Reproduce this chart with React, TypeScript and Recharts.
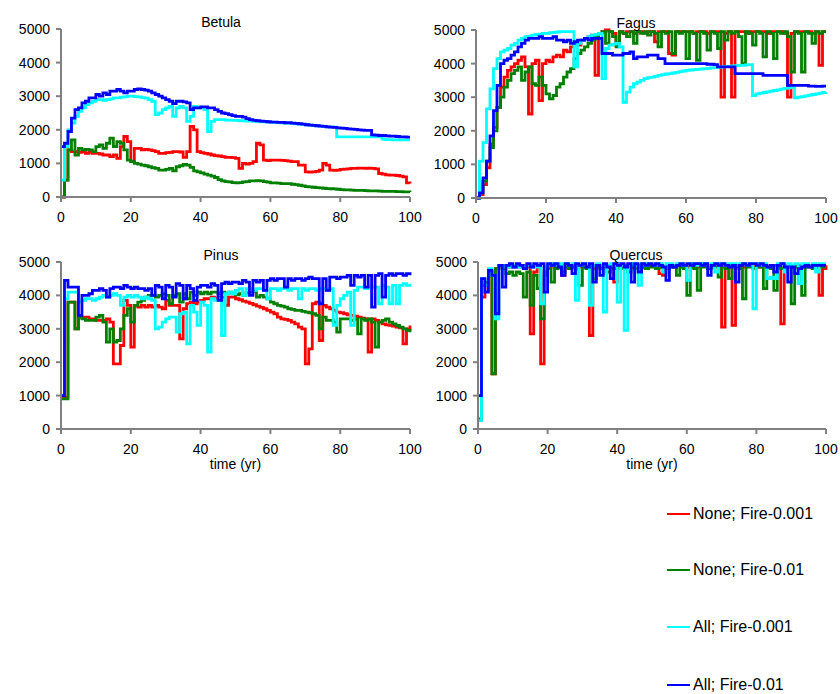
import React from 'react';
import { LineChart, Line, XAxis, YAxis } from 'recharts';

// time axis (yr), one value per year
const YEARS = Array.from({ length: 101 }, (_, i) => i);
const X_TICKS = [0, 20, 40, 60, 80, 100];
const Y_TICKS = [0, 1000, 2000, 3000, 4000, 5000];

const SERIES_NAMES = ['None; Fire-0.001', 'None; Fire-0.01', 'All; Fire-0.001', 'All; Fire-0.01'];
const SERIES_KEYS = ['none001', 'none01', 'all001', 'all01'];
const SERIES_COLORS = ['#ff0000', '#008000', '#00ffff', '#0000ff'];

// ---- Betula ----
const BETULA_NONE_001 = [
  0, 500, 1400, 1350, 1350, 1330, 1350, 1300, 1330, 1300,
  1300, 1280, 1250, 1250, 1200, 1250, 1150, 1500, 1800, 1650,
  1050, 1450, 1450, 1400, 1420, 1400, 1380, 1350, 1300, 1300,
  1320, 1330, 1350, 1350, 1340, 1180, 1350, 2100, 2000, 1350,
  1320, 1300, 1280, 1250, 1230, 1220, 1200, 1180, 1180, 1170,
  1150, 850, 1000, 980, 1000, 1050, 1600, 1550, 1100, 1080,
  1100, 1100, 1100, 1090, 1080, 1070, 1050, 1050, 950, 950,
  750, 740, 750, 760, 800, 1000, 950, 800, 790, 800,
  820, 830, 840, 850, 850, 860, 860, 850, 860, 850,
  840, 700, 680, 660, 650, 650, 640, 620, 600, 420,
  400,
];
const BETULA_NONE_01 = [
  0, 500, 1400, 1700, 1250, 1450, 1400, 1420, 1400, 1350,
  1500, 1550, 1450, 1600, 1750, 1500, 1650, 1600, 1400, 1100,
  1050, 1000, 980, 950, 930, 900, 870, 850, 800, 800,
  820, 850, 780, 900, 930, 970, 950, 880, 780, 750,
  720, 680, 650, 620, 580, 520, 480, 460, 450, 430,
  420, 430, 450, 460, 480, 480, 490, 480, 460, 440,
  420, 420, 410, 400, 400, 400, 380, 370, 350, 330,
  310, 300, 290, 280, 270, 260, 250, 245, 240, 230,
  220, 215, 210, 205, 200, 200, 195, 190, 185, 180,
  180, 175, 170, 170, 165, 165, 160, 160, 155, 155,
  150,
];
const BETULA_ALL_001 = [
  500, 1500, 2000, 2200, 2400, 2550, 2650, 2750, 2800, 2850,
  2900, 2900, 2880, 2900, 2920, 2950, 2950, 2970, 2980, 3000,
  3000, 2990, 2980, 2960, 2940, 2900, 2850, 2450, 2500, 2600,
  2650, 2700, 2400, 2650, 2700, 2650, 2250, 2400, 2700, 2650,
  2650, 2600, 1950, 2250, 2300, 2300, 2300, 2290, 2290, 2280,
  2280, 2270, 2270, 2260, 2260, 2250, 2250, 2240, 2240, 2230,
  2230, 2220, 2220, 2210, 2200, 2200, 2190, 2180, 2170, 2160,
  2150, 2140, 2130, 2120, 2110, 2100, 2090, 2080, 2080, 1790,
  1790, 1790, 1790, 1790, 1790, 1790, 1790, 1790, 1790, 1790,
  1790, 1790, 1720, 1710, 1710, 1700, 1700, 1700, 1700, 1700,
  1700,
];
const BETULA_ALL_01 = [
  1500, 1600, 1950, 2350, 2600, 2650, 2800, 2850, 2950, 2950,
  3050, 3000, 3100, 3050, 3150, 3150, 3200, 3150, 3100, 3150,
  3150, 3200, 3220, 3200, 3180, 3150, 3100, 3050, 3000, 2950,
  2900, 2850, 2780, 2850, 2850, 2830, 2800, 2600, 2650, 2650,
  2680, 2680, 2650, 2650, 2600, 2550, 2500, 2480, 2450, 2420,
  2400, 2400, 2380, 2330, 2300, 2280, 2270, 2260, 2250, 2240,
  2230, 2230, 2220, 2220, 2210, 2210, 2200, 2190, 2180, 2170,
  2150, 2140, 2130, 2120, 2110, 2100, 2090, 2080, 2070, 2060,
  2050, 2040, 2030, 2020, 2010, 2000, 1990, 1980, 1980, 1850,
  1840, 1830, 1830, 1820, 1810, 1810, 1800, 1790, 1790, 1780,
  1780,
];

// ---- Fagus ----
const FAGUS_NONE_001 = [
  0, 100, 400, 900, 1600, 2100, 2700, 3300, 3600, 3800,
  3900, 4000, 4100, 4200, 3900, 2500, 4000, 4100, 2900, 4000,
  4100, 4050, 4200, 4250, 4200, 4400, 4350, 4500, 4600, 4550,
  4700, 4750, 4800, 4850, 3650, 4900, 4950, 5000, 4950, 4900,
  4550, 4950, 4900, 4950, 4950, 4900, 4950, 4950, 4900, 4950,
  4950, 4650, 4950, 4950, 4950, 4300, 4250, 4950, 4950, 4950,
  4950, 4950, 4900, 4950, 4950, 4950, 4900, 4950, 4950, 4950,
  3000, 4900, 4950, 3000, 4950, 4950, 4950, 4900, 4950, 4950,
  4950, 4950, 4950, 4900, 4950, 4950, 4950, 4950, 4900, 3000,
  4900, 4950, 4950, 4950, 4950, 4950, 4900, 4950, 3950, 4950,
  4950,
];
const FAGUS_NONE_01 = [
  0, 150, 500, 1100, 1500, 2000, 2700, 3000, 3300, 3500,
  3700, 3800, 3900, 3500, 3750, 3900, 3400, 3350, 3600, 3350,
  3100, 2950, 3050, 3300, 3400, 3600, 3750, 3850, 4150, 4300,
  4400, 4500, 4600, 4700, 4800, 4900, 4950, 4600, 4950, 4800,
  4500, 4950, 4900, 4800, 4950, 4600, 4950, 4900, 4950, 4850,
  4950, 4900, 4500, 4950, 4900, 4950, 4300, 4950, 4900, 4950,
  4150, 4950, 4900, 4100, 4950, 4900, 4400, 4950, 4900, 4450,
  4950, 4700, 4950, 4900, 4950, 4800, 4000, 4950, 4900, 4550,
  4950, 4900, 4200, 4950, 4900, 4150, 4950, 4900, 4950, 4800,
  3750, 4950, 4900, 3750, 4950, 4900, 4600, 4950, 4900, 4950,
  4950,
];
const FAGUS_ALL_001 = [
  0, 1100, 1650, 2650, 3250, 3850, 4150, 4350, 4400, 4450,
  4550, 4600, 4700, 4750, 4800, 4820, 4850, 4870, 4880, 4900,
  4900, 4920, 4930, 4940, 4950, 4950, 4950, 4950, 3900, 4600,
  4700, 4750, 4800, 4850, 4870, 4900, 3550, 4450, 4550, 4580,
  4600, 4500, 2850, 3150, 3300, 3400, 3450, 3500, 3550, 3580,
  3600, 3620, 3650, 3670, 3690, 3700, 3720, 3740, 3760, 3780,
  3800, 3810, 3820, 3830, 3840, 3850, 3860, 3870, 3880, 3890,
  3900, 3910, 3920, 3930, 3940, 3950, 3950, 3960, 3970, 3050,
  3100, 3120, 3140, 3160, 3180, 3200, 3220, 3240, 3260, 3280,
  3300, 2980, 3000, 3020, 3040, 3060, 3080, 3100, 3120, 3140,
  3150,
];
const FAGUS_ALL_01 = [
  0, 150, 600, 1100, 1850, 2600, 3350, 4000, 4100, 4150,
  4250, 4350, 4500, 4600, 4700, 4750, 4750, 4750, 4800, 4750,
  4750, 4750, 4800, 4700, 4700, 4650, 4700, 4600, 4650, 4700,
  4700, 4750, 4700, 4750, 4750, 4750, 4300, 4300, 4300, 4250,
  4250, 4250, 4300, 4300, 4350, 4150, 4200, 4200, 4200, 4250,
  4250, 4250, 4150, 4150, 4000, 4000, 4000, 4000, 4000, 4000,
  4000, 4000, 4000, 4000, 4000, 4000, 3980, 3980, 3970, 3900,
  3900, 3900, 3900, 3900, 3700, 3700, 3700, 3700, 3700, 3700,
  3700, 3700, 3650, 3650, 3650, 3650, 3650, 3650, 3650, 3350,
  3350, 3350, 3350, 3350, 3350, 3330, 3330, 3320, 3320, 3330,
  3330,
];

// ---- Pinus ----
const PINUS_NONE_001 = [
  950, 950, 3800, 3800, 3000, 3350, 3350, 3350, 3300, 3300,
  3250, 3250, 3250, 3300, 3200, 1950, 1950, 2500, 3850, 3700,
  2450, 3700, 3650, 3700, 3650, 3700, 3650, 3700, 3650, 3600,
  3850, 3700, 3700, 3700, 2700, 3600, 3750, 3800, 3750, 3800,
  3850, 3900, 3900, 3950, 3900, 3950, 3950, 3700, 3950, 3950,
  3900, 3870, 3830, 3800, 3760, 3720, 3680, 3640, 3600, 3550,
  3500, 3450, 3350, 3300, 3280, 3250, 3200, 3150, 3050, 3000,
  1950, 2400, 3750, 3800, 2650, 3700, 3650, 3600, 3550, 3500,
  3480, 3450, 3420, 3400, 3380, 3350, 3320, 3300, 2300, 3300,
  3250, 3200, 3150, 3120, 3100, 3080, 3050, 3030, 2550, 3000,
  3100,
];
const PINUS_NONE_01 = [
  900, 900, 3800, 3800, 3000, 3350, 3300, 3250, 3250, 3250,
  3350, 3400, 3200, 2600, 3000, 2600, 2650, 3000, 3400, 3600,
  3200, 3700, 3800, 3850, 3950, 4000, 4000, 3950, 4000, 4050,
  4000, 3750, 4000, 4050, 3800, 4050, 3900, 4100, 4000, 4100,
  4050, 4100, 4050, 4100, 4100, 4050, 4100, 4050, 4100, 4050,
  4020, 4050, 4000, 4080, 4100, 4120, 3950, 4000, 3950, 3900,
  3800, 3750, 3700, 3680, 3650, 3600, 3580, 3550, 3550, 3520,
  3500, 3480, 3450, 3400, 3000, 3350, 3250, 3250, 3200, 2900,
  3300, 3300, 3300, 3250, 3300, 2850, 3300, 3250, 3300, 3200,
  2450, 3200, 3250, 3300, 3200, 3150, 3100, 3050, 3000, 2950,
  2900,
];
const PINUS_ALL_001 = [
  1000, 3900, 4100, 4100, 4100, 3800, 3850, 3900, 3900, 3850,
  3900, 3950, 4000, 3950, 4000, 4050, 4000, 3700, 3950, 4000,
  3950, 4000, 3950, 3900, 3950, 3900, 3850, 3000, 3050, 3200,
  3300, 3350, 3350, 2900, 3450, 3500, 2550, 3700, 3500, 3100,
  3800, 3700, 2300, 3900, 3850, 3900, 2800, 4050, 4100, 4050,
  4150, 4200, 4000, 4200, 4200, 4150, 4200, 4200, 4150, 3900,
  4200, 4200, 4150, 4200, 4200, 4150, 4200, 4200, 3900, 4200,
  4150, 4200, 4200, 4150, 4200, 4200, 4150, 4200, 3100, 3700,
  3900, 4000, 4100, 3100, 4150, 4250, 4250, 4200, 4250, 4250,
  4250, 3750, 4300, 4250, 3750, 4300, 3750, 4300, 4350, 4300,
  4350,
];
const PINUS_ALL_01 = [
  1000, 4450, 4250, 4250, 4250, 3400, 4000, 4000, 4050, 4150,
  4150, 4200, 4150, 3950, 4200, 4250, 4250, 4200, 4300, 4250,
  4200, 4250, 4200, 4200, 4150, 4200, 4000, 4300, 4250, 3900,
  4300, 4250, 3950, 4350, 4300, 3900, 4300, 4200, 3850, 4250,
  4300, 4300, 4250, 4350, 4300, 3850, 4350, 4400, 4350, 4400,
  4400, 4350, 4450, 4400, 4000, 4450, 4400, 4450, 4150, 4450,
  4500, 4450, 4500, 4500, 4250, 4500, 4450, 4500, 4500, 4450,
  4500, 4550, 4500, 4500, 3750, 4500, 4150, 4550, 4550, 4500,
  4550, 4550, 4600, 4300, 4600, 4550, 4600, 4250, 4600, 3650,
  4600, 4650, 3950, 4600, 4650, 4600, 4650, 4650, 4600, 4650,
  4600,
];

// ---- Quercus ----
const QUERCUS_NONE_001 = [
  250, 3950, 4300, 4700, 1650, 4800, 4850, 4850, 4900, 4850,
  4850, 4900, 4850, 4900, 4850, 2850, 4700, 4850, 1950, 4700,
  4850, 4900, 4850, 4900, 4600, 4900, 4850, 4900, 4900, 4850,
  4900, 4850, 2800, 4800, 4900, 4850, 4900, 4850, 4900, 4400,
  4900, 4850, 4900, 4900, 4850, 4900, 4900, 4850, 4900, 4900,
  4900, 4850, 4650, 4600, 4900, 4900, 4850, 4900, 4900, 4900,
  4850, 4900, 4900, 4850, 4900, 4900, 4900, 4850, 4900, 4900,
  3050, 4900, 4850, 3100, 4900, 4900, 4850, 4900, 4900, 4900,
  4850, 4900, 4900, 4850, 4900, 4900, 4850, 3150, 4900, 4900,
  4850, 4900, 4900, 4850, 4900, 4900, 4850, 4900, 4000, 4800,
  4900,
];
const QUERCUS_NONE_01 = [
  300, 4300, 4400, 4700, 1650, 4800, 4900, 4800, 4650, 4700,
  4600, 4700, 4650, 3950, 4700, 3700, 4600, 4200, 3300, 4600,
  4800, 4400, 4800, 4850, 4700, 4850, 4800, 4850, 4800, 4300,
  4850, 4800, 4850, 4500, 4850, 4800, 4850, 4700, 4850, 4800,
  4850, 4800, 4850, 4700, 4850, 4800, 4850, 4850, 4800, 4850,
  4850, 4800, 4850, 4850, 4800, 4850, 4850, 4600, 4850, 4800,
  4000, 4850, 4800, 4150, 4850, 4850, 4800, 4850, 4850, 4550,
  4850, 4800, 4500, 4850, 4850, 4800, 3900, 4850, 4850, 4800,
  4850, 4850, 4200, 4850, 4800, 4150, 4850, 4800, 4850, 4850,
  3750, 4850, 4800, 4000, 4850, 4850, 4800, 4850, 4850, 4850,
  4850,
];
const QUERCUS_ALL_001 = [
  250, 4500, 4300, 4800, 4600, 3300, 4900, 4850, 4900, 4850,
  4900, 4850, 4900, 4850, 4900, 4850, 4900, 4850, 3750, 4850,
  4900, 4950, 4900, 4950, 4900, 4950, 4900, 4950, 3850, 4900,
  4950, 4900, 3700, 4900, 4950, 4900, 3500, 4900, 4950, 4900,
  3800, 4900, 2950, 4900, 4950, 4900, 4300, 4950, 4900, 4950,
  4950, 4900, 4950, 4700, 4950, 4950, 4900, 4950, 4950, 4900,
  4450, 4950, 4950, 4900, 4950, 4950, 4900, 4950, 4700, 4950,
  4950, 4900, 4950, 4950, 4900, 4950, 4950, 4900, 4950, 3600,
  4950, 4900, 4950, 4500, 4550, 4500, 4950, 4950, 4700, 4950,
  4900, 4950, 4350, 4950, 4950, 4900, 4950, 4700, 4950, 4950,
  4950,
];
const QUERCUS_ALL_01 = [
  1000, 4500, 4100, 4750, 4600, 3450, 4900, 4250, 4900, 4950,
  4850, 4950, 4900, 4800, 4950, 4850, 4950, 4900, 4950, 4100,
  4950, 4900, 4950, 4850, 4600, 4950, 4900, 4650, 4950, 4900,
  4950, 4850, 4950, 4400, 4900, 4600, 4950, 4850, 4500, 4950,
  4900, 4950, 4850, 4950, 4400, 4950, 4700, 4950, 4900, 4950,
  4900, 4950, 4900, 4850, 4450, 4900, 4850, 4900, 4950, 4900,
  4950, 4900, 4950, 4950, 4900, 4950, 4600, 4900, 4950, 4900,
  4950, 4900, 4850, 4900, 4400, 4900, 4950, 4900, 4950, 4950,
  4900, 4950, 4900, 4850, 4900, 4700, 4900, 4950, 4850, 4400,
  4850, 4650, 4800, 4850, 4900, 4850, 4900, 4900, 4900, 4900,
  4900,
];

const FONT = '"Liberation Sans", Arial, sans-serif';
const AXIS_GREY = '#808080';

type PanelProps = {
  title: string;
  series: number[][];
  left: number;
  top: number;
  width: number;
  height: number;
  xAxisHeight: number;
  titleX: number;
  titleY: number;
  showXLabel?: boolean;
};

function Panel({ title, series, left, top, width, height, xAxisHeight, titleX, titleY, showXLabel }: PanelProps) {
  const data = YEARS.map((t, i) => {
    const row: Record<string, number> = { t };
    SERIES_KEYS.forEach((k, s) => {
      row[k] = series[s][i];
    });
    return row;
  });

  return (
    <div style={{ position: 'absolute', left, top, width, height }}>
      <LineChart width={width} height={height} data={data} margin={{ top: 29, right: 10, bottom: 0, left: 0 }}>
        <XAxis
          dataKey="t"
          type="number"
          domain={[0, 100]}
          ticks={X_TICKS}
          interval={0}
          height={xAxisHeight}
          tickSize={5}
          tickMargin={10}
          axisLine={{ stroke: AXIS_GREY, strokeWidth: 2 }}
          tickLine={{ stroke: AXIS_GREY, strokeWidth: 2 }}
          tick={{ fill: '#000', fontSize: 14 }}
          label={
            showXLabel
              ? { value: 'time (yr)', position: 'insideBottom', offset: 0, fill: '#000', fontSize: 14 }
              : undefined
          }
        />
        <YAxis
          type="number"
          domain={[0, 5000]}
          ticks={Y_TICKS}
          interval={0}
          width={61}
          tickSize={5}
          tickMargin={6}
          axisLine={{ stroke: AXIS_GREY, strokeWidth: 2 }}
          tickLine={{ stroke: AXIS_GREY, strokeWidth: 2 }}
          tick={{ fill: '#000', fontSize: 14 }}
        />
        {SERIES_KEYS.map((k, s) => (
          <Line
            key={k}
            type="stepAfter"
            dataKey={k}
            name={SERIES_NAMES[s]}
            stroke={SERIES_COLORS[s]}
            strokeWidth={2.8}
            dot={false}
            activeDot={false}
            isAnimationActive={false}
          />
        ))}
      </LineChart>
      <div
        style={{
          position: 'absolute',
          left: titleX - left,
          top: titleY - top,
          transform: 'translate(-50%, -50%)',
          fontSize: 14,
          lineHeight: '14px',
          color: '#000',
          whiteSpace: 'nowrap',
        }}
      >
        {title}
      </div>
    </div>
  );
}

const LEGEND_ROWS_Y = [514, 570, 627, 685];

export default function App() {
  return (
    <div style={{ position: 'absolute', left: 0, top: 0, width: 840, height: 694, background: '#fff', fontFamily: FONT }}>
      <style>{'.recharts-surface { overflow: visible; }'}</style>
      <Panel
        title="Betula"
        series={[BETULA_NONE_001, BETULA_NONE_01, BETULA_ALL_001, BETULA_ALL_01]}
        left={0} top={0} width={420} height={230} xAxisHeight={33}
        titleX={221} titleY={22}
      />
      <Panel
        title="Fagus"
        series={[FAGUS_NONE_001, FAGUS_NONE_01, FAGUS_ALL_001, FAGUS_ALL_01]}
        left={415} top={1} width={421} height={230} xAxisHeight={33}
        titleX={636} titleY={23}
      />
      <Panel
        title="Pinus"
        series={[PINUS_NONE_001, PINUS_NONE_01, PINUS_ALL_001, PINUS_ALL_01]}
        left={0} top={233} width={420} height={236} xAxisHeight={40}
        titleX={221} titleY={255} showXLabel
      />
      <Panel
        title="Quercus"
        series={[QUERCUS_NONE_001, QUERCUS_NONE_01, QUERCUS_ALL_001, QUERCUS_ALL_01]}
        left={417} top={233} width={419} height={236} xAxisHeight={40}
        titleX={636} titleY={255} showXLabel
      />
      {SERIES_NAMES.map((name, s) => (
        <div
          key={name}
          style={{ position: 'absolute', left: 667, top: LEGEND_ROWS_Y[s] - 10, height: 20, display: 'flex', alignItems: 'center' }}
        >
          <div style={{ width: 23, height: 2, background: SERIES_COLORS[s], marginRight: 3 }} />
          <span style={{ fontSize: 16, color: '#000', whiteSpace: 'nowrap' }}>{name}</span>
        </div>
      ))}
    </div>
  );
}
